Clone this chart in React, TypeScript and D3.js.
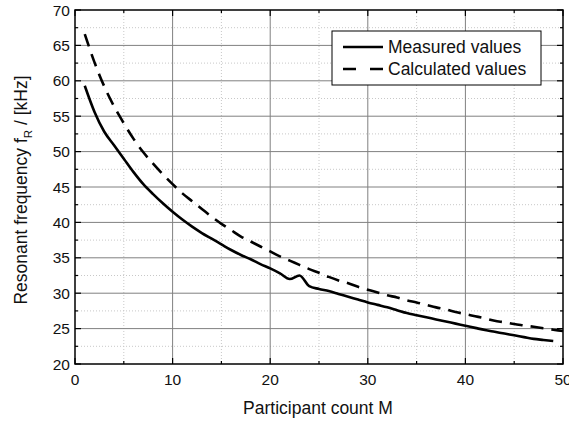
import React from "react";
import * as d3 from "d3";

const participants = d3.range(1, 51);
const measured = [
  59.3, 55.6, 52.8, 50.9, 49.0, 47.1, 45.4, 44.0, 42.7, 41.5,
  40.4, 39.4, 38.5, 37.7, 36.9, 36.1, 35.4, 34.8, 34.1, 33.5,
  32.8, 32.0, 32.5, 31.0, 30.6, 30.3, 29.9, 29.5, 29.1, 28.7,
  28.35, 28.0, 27.6, 27.2, 26.9, 26.6, 26.3, 26.0, 25.7, 25.4,
  25.1, 24.8, 24.55, 24.3, 24.05, 23.8, 23.55, 23.4, 23.25,
];
const calculated = [
  66.6, 62.6, 59.2, 56.4, 54.0, 51.8, 49.9, 48.3, 46.8, 45.4,
  44.1, 43.0, 41.9, 40.8, 39.8, 38.9, 38.0, 37.3, 36.6, 35.9,
  35.2, 34.6, 34.0, 33.4, 32.9, 32.3, 31.8, 31.4, 30.9, 30.5,
  30.1, 29.7, 29.4, 29.0, 28.7, 28.35, 28.0, 27.7, 27.35, 27.05,
  26.75, 26.45, 26.1, 25.9, 25.65, 25.45, 25.25, 25.05, 24.85, 24.65,
];
const xTicks = [0, 10, 20, 30, 40, 50];
const yTicks = [20, 25, 30, 35, 40, 45, 50, 55, 60, 65, 70];
const legendLabels = ["Measured values", "Calculated values"];

const W = 569;
const H = 421;
const left = 75;
const right = 563;
const top = 10;
const bottom = 364;

export default function App() {
  const x = d3.scaleLinear().domain([0, 50]).range([left, right]);
  const y = d3.scaleLinear().domain([20, 70]).range([bottom, top]);

  const line = d3
    .line<number>()
    .x((d, i) => x(participants[i]))
    .y(d => y(d))
    .curve(d3.curveMonotoneX);

  const xMinor = d3.range(5, 50, 10);
  const yMinor = d3.range(22.5, 70, 5);
  const font = "'Liberation Sans', Arial, sans-serif";

  return (
    <svg
      width={W}
      height={H}
      style={{ position: "absolute", left: 0, top: 0, background: "#fff" }}
      fontFamily={font}
    >
      {/* minor grid */}
      {xMinor.map(t => (
        <line key={"xm" + t} x1={x(t)} x2={x(t)} y1={top} y2={bottom} stroke="#c8c8c8" strokeWidth={1} strokeDasharray="1,2" />
      ))}
      {yMinor.map(t => (
        <line key={"ym" + t} x1={left} x2={right} y1={y(t)} y2={y(t)} stroke="#c8c8c8" strokeWidth={1} strokeDasharray="1,2" />
      ))}
      {/* major grid */}
      {xTicks.slice(1, -1).map(t => (
        <line key={"xg" + t} x1={x(t)} x2={x(t)} y1={top} y2={bottom} stroke="#808080" strokeWidth={1} />
      ))}
      {yTicks.slice(1, -1).map(t => (
        <line key={"yg" + t} x1={left} x2={right} y1={y(t)} y2={y(t)} stroke="#808080" strokeWidth={1} />
      ))}

      {/* ticks on all sides */}
      {xTicks.map(t => (
        <g key={"xt" + t}>
          <line x1={x(t)} x2={x(t)} y1={bottom} y2={bottom - 6} stroke="#000" strokeWidth={1.2} />
          <line x1={x(t)} x2={x(t)} y1={top} y2={top + 6} stroke="#000" strokeWidth={1.2} />
        </g>
      ))}
      {xMinor.map(t => (
        <g key={"xmt" + t}>
          <line x1={x(t)} x2={x(t)} y1={bottom} y2={bottom - 3} stroke="#000" strokeWidth={1.2} />
          <line x1={x(t)} x2={x(t)} y1={top} y2={top + 3} stroke="#000" strokeWidth={1.2} />
        </g>
      ))}
      {yTicks.map(t => (
        <g key={"yt" + t}>
          <line x1={left} x2={left + 6} y1={y(t)} y2={y(t)} stroke="#000" strokeWidth={1.2} />
          <line x1={right} x2={right - 6} y1={y(t)} y2={y(t)} stroke="#000" strokeWidth={1.2} />
        </g>
      ))}
      {yMinor.map(t => (
        <g key={"ymt" + t}>
          <line x1={left} x2={left + 3} y1={y(t)} y2={y(t)} stroke="#000" strokeWidth={1.2} />
          <line x1={right} x2={right - 3} y1={y(t)} y2={y(t)} stroke="#000" strokeWidth={1.2} />
        </g>
      ))}

      {/* curves */}
      <path d={line(calculated) || ""} fill="none" stroke="#000" strokeWidth={2.6} strokeDasharray="13,8" />
      <path d={line(measured) || ""} fill="none" stroke="#000" strokeWidth={2.6} />

      {/* frame */}
      <rect x={left} y={top} width={right - left} height={bottom - top} fill="none" stroke="#000" strokeWidth={1.5} />

      {/* tick labels */}
      {xTicks.map(t => (
        <text key={"xl" + t} x={x(t)} y={bottom + 21} fontSize={15.5} textAnchor="middle" fill="#111">
          {t}
        </text>
      ))}
      {yTicks.map(t => (
        <text key={"yl" + t} x={left - 5} y={y(t) + 5.5} fontSize={15.5} textAnchor="end" fill="#111">
          {t}
        </text>
      ))}

      {/* axis titles */}
      <text x={318} y={414} fontSize={17.5} textAnchor="middle" fill="#111">
        Participant count M
      </text>
      <text transform={`translate(27,${190}) rotate(-90)`} fontSize={17.5} textAnchor="middle" fill="#111">
        Resonant frequency f
        <tspan fontSize={11.5} dy={5}>R</tspan>
        <tspan dy={-5}> / [kHz]</tspan>
      </text>

      {/* legend */}
      <rect x={332} y={31} width={209} height={54} fill="#fff" stroke="#000" strokeWidth={1} />
      {legendLabels.map((label, i) => (
        <g key={label} transform={`translate(0,${47 + i * 22})`}>
          <line x1={343} x2={383} y1={0} y2={0} stroke="#000" strokeWidth={2.6} strokeDasharray={i === 0 ? "none" : "13,14"} />
          <text x={388} y={6} fontSize={17.5} fill="#111">
            {label}
          </text>
        </g>
      ))}
    </svg>
  );
}
